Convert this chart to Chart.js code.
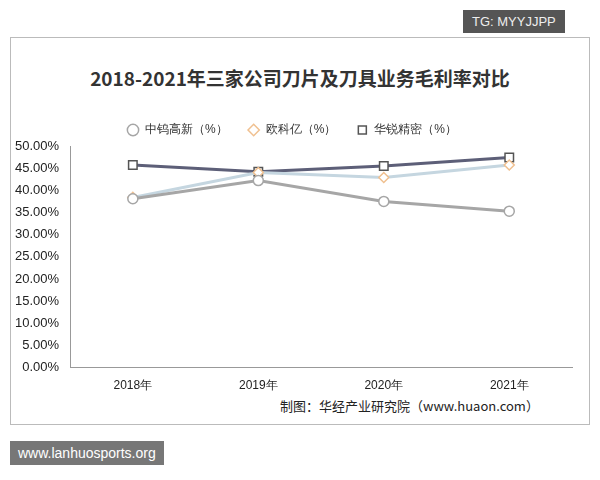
<!DOCTYPE html>
<html><head><meta charset="utf-8">
<script src="https://cdn.jsdelivr.net/npm/chart.js@4"></script>
<style>
body{margin:0;background:#fff;width:600px;height:480px;position:relative;font-family:"Noto Sans CJK SC",sans-serif;overflow:hidden}
#frame{position:absolute;left:10px;top:37px;width:578px;height:386px;border:1px solid #bbb}
#wrap{position:absolute;left:12px;top:104px;width:570px;height:292px}
#title{position:absolute;left:0;top:64px;width:600px;text-align:center;font-size:19px;font-weight:bold;font-family:"Noto Sans CJK SC",serif;color:#333}
#src{position:absolute;left:280px;top:396px;font-size:13px;color:#222}
#tg{position:absolute;left:463px;top:10px;background:#555;color:#eee;font-size:13px;padding:4px 9px;font-family:"Liberation Sans"}
#site{position:absolute;left:10px;top:441px;background:#777;color:#fff;font-size:14px;padding:4px 8px;font-family:"Liberation Sans"}
</style></head><body>
<div id="frame"></div>
<div id="title">2018-2021年三家公司刀片及刀具业务毛利率对比</div>
<div id="wrap"><canvas id="c"></canvas></div>
<div id="src">制图：华经产业研究院（www.huaon.com）</div>
<div id="tg">TG: MYYJJPP</div>
<div id="site">www.lanhuosports.org</div>
<script>
const years = ['2018年', '2019年', '2020年', '2021年'];
const zhongwu = [38.1, 42.2, 37.5, 35.3];
const ouke = [38.4, 44.0, 42.9, 45.7];
const huarui = [45.7, 44.2, 45.5, 47.4];

new Chart(document.getElementById('c'), {
    type: 'line',
    data: {
        labels: years,
        datasets: [
            { label: '中钨高新（%）', data: zhongwu, borderColor: '#a6a6a6', pointBackgroundColor: '#fff', pointBorderWidth: 1.5, pointStyle: 'circle', pointRadius: 5, borderWidth: 3 },
            { label: '欧科亿（%）', data: ouke, borderColor: '#c5d6e0', pointBackgroundColor: '#fff', pointBorderColor: '#f0c090', pointBorderWidth: 1.5, pointStyle: 'rectRot', pointRadius: 5, borderWidth: 3 },
            { label: '华锐精密（%）', data: huarui, borderColor: '#5d5f78', pointBackgroundColor: '#fff', pointBorderColor: '#555', pointBorderWidth: 1.5, pointStyle: 'rect', pointRadius: 6, borderWidth: 3 }
        ]
    },
    options: {
        responsive: true, maintainAspectRatio: false, animation: false,
        layout: { padding: { right: 10 } },
        plugins: {
            legend: { labels: { usePointStyle: true, font: { size: 12 }, color: '#333', boxHeight: 8, padding: 20 } },
            tooltip: { enabled: false }
        },
        scales: {
            x: { offset: true, grid: { display: false }, border: { color: '#999' }, ticks: { color: '#222', font: { size: 12 } } },
            y: { min: 0, max: 50, grid: { display: false }, border: { color: '#999' },
                 ticks: { stepSize: 5, color: '#222', font: { size: 13, family: 'Liberation Sans' }, callback: v => v.toFixed(2) + '%' } }
        }
    }
});
</script>
</body></html>
